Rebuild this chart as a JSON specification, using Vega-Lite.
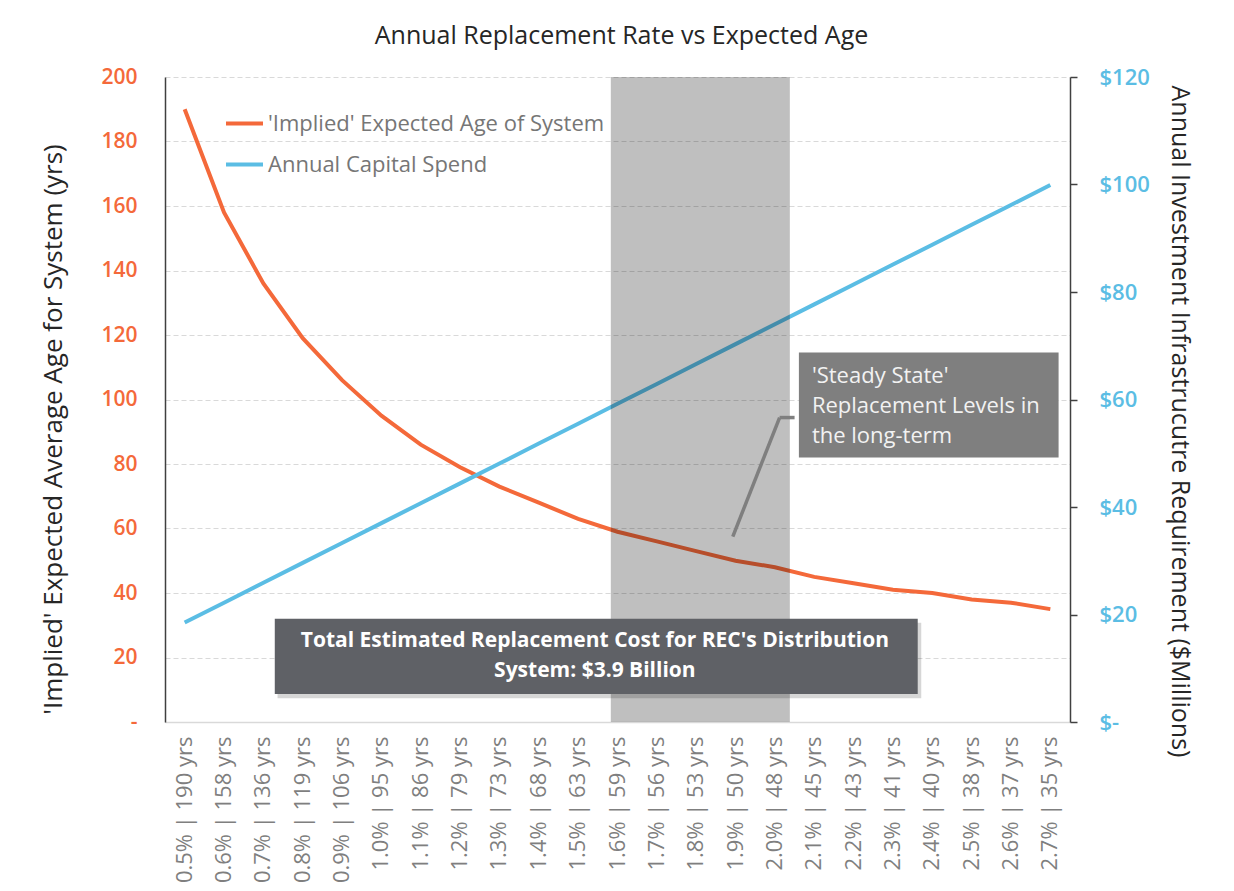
{
  "$schema": "https://vega.github.io/schema/vega-lite/v6.json",
  "width": 905,
  "height": 645,
  "autosize": {"type": "none"},
  "padding": {"left": 165, "top": 77, "right": 164, "bottom": 169},
  "background": "white",
  "title": {
    "text": "Annual Replacement Rate vs Expected Age",
    "font": "Open Sans",
    "fontSize": 25,
    "fontWeight": "normal",
    "color": "#262626",
    "anchor": "middle",
    "dx": 4,
    "offset": 17
  },
  "datasets": {
    "age": [
      {"cat": "0.5% | 190 yrs", "series": "'Implied' Expected Age of System", "v": 190},
      {"cat": "0.6% | 158 yrs", "series": "'Implied' Expected Age of System", "v": 158},
      {"cat": "0.7% | 136 yrs", "series": "'Implied' Expected Age of System", "v": 136},
      {"cat": "0.8% | 119 yrs", "series": "'Implied' Expected Age of System", "v": 119},
      {"cat": "0.9% | 106 yrs", "series": "'Implied' Expected Age of System", "v": 106},
      {"cat": "1.0% | 95 yrs", "series": "'Implied' Expected Age of System", "v": 95},
      {"cat": "1.1% | 86 yrs", "series": "'Implied' Expected Age of System", "v": 86},
      {"cat": "1.2% | 79 yrs", "series": "'Implied' Expected Age of System", "v": 79},
      {"cat": "1.3% | 73 yrs", "series": "'Implied' Expected Age of System", "v": 73},
      {"cat": "1.4% | 68 yrs", "series": "'Implied' Expected Age of System", "v": 68},
      {"cat": "1.5% | 63 yrs", "series": "'Implied' Expected Age of System", "v": 63},
      {"cat": "1.6% | 59 yrs", "series": "'Implied' Expected Age of System", "v": 59},
      {"cat": "1.7% | 56 yrs", "series": "'Implied' Expected Age of System", "v": 56},
      {"cat": "1.8% | 53 yrs", "series": "'Implied' Expected Age of System", "v": 53},
      {"cat": "1.9% | 50 yrs", "series": "'Implied' Expected Age of System", "v": 50},
      {"cat": "2.0% | 48 yrs", "series": "'Implied' Expected Age of System", "v": 48},
      {"cat": "2.1% | 45 yrs", "series": "'Implied' Expected Age of System", "v": 45},
      {"cat": "2.2% | 43 yrs", "series": "'Implied' Expected Age of System", "v": 43},
      {"cat": "2.3% | 41 yrs", "series": "'Implied' Expected Age of System", "v": 41},
      {"cat": "2.4% | 40 yrs", "series": "'Implied' Expected Age of System", "v": 40},
      {"cat": "2.5% | 38 yrs", "series": "'Implied' Expected Age of System", "v": 38},
      {"cat": "2.6% | 37 yrs", "series": "'Implied' Expected Age of System", "v": 37},
      {"cat": "2.7% | 35 yrs", "series": "'Implied' Expected Age of System", "v": 35}
    ],
    "spend": [
      {"cat": "0.5% | 190 yrs", "series": "Annual Capital Spend", "v": 18.5},
      {"cat": "0.6% | 158 yrs", "series": "Annual Capital Spend", "v": 22.2},
      {"cat": "0.7% | 136 yrs", "series": "Annual Capital Spend", "v": 25.9},
      {"cat": "0.8% | 119 yrs", "series": "Annual Capital Spend", "v": 29.6},
      {"cat": "0.9% | 106 yrs", "series": "Annual Capital Spend", "v": 33.3},
      {"cat": "1.0% | 95 yrs", "series": "Annual Capital Spend", "v": 37.0},
      {"cat": "1.1% | 86 yrs", "series": "Annual Capital Spend", "v": 40.7},
      {"cat": "1.2% | 79 yrs", "series": "Annual Capital Spend", "v": 44.4},
      {"cat": "1.3% | 73 yrs", "series": "Annual Capital Spend", "v": 48.1},
      {"cat": "1.4% | 68 yrs", "series": "Annual Capital Spend", "v": 51.8},
      {"cat": "1.5% | 63 yrs", "series": "Annual Capital Spend", "v": 55.5},
      {"cat": "1.6% | 59 yrs", "series": "Annual Capital Spend", "v": 59.2},
      {"cat": "1.7% | 56 yrs", "series": "Annual Capital Spend", "v": 62.9},
      {"cat": "1.8% | 53 yrs", "series": "Annual Capital Spend", "v": 66.6},
      {"cat": "1.9% | 50 yrs", "series": "Annual Capital Spend", "v": 70.3},
      {"cat": "2.0% | 48 yrs", "series": "Annual Capital Spend", "v": 74.0},
      {"cat": "2.1% | 45 yrs", "series": "Annual Capital Spend", "v": 77.7},
      {"cat": "2.2% | 43 yrs", "series": "Annual Capital Spend", "v": 81.4},
      {"cat": "2.3% | 41 yrs", "series": "Annual Capital Spend", "v": 85.1},
      {"cat": "2.4% | 40 yrs", "series": "Annual Capital Spend", "v": 88.8},
      {"cat": "2.5% | 38 yrs", "series": "Annual Capital Spend", "v": 92.5},
      {"cat": "2.6% | 37 yrs", "series": "Annual Capital Spend", "v": 96.2},
      {"cat": "2.7% | 35 yrs", "series": "Annual Capital Spend", "v": 99.9}
    ],
    "steadyBand": [{"from": "1.6% | 59 yrs", "to": "2.0% | 48 yrs"}],
    "totalBox": [{"from": "0.7% | 136 yrs", "to": "2.4% | 40 yrs", "top": 32.0, "bottom": 8.7}],
    "totalShadow": [{"from": "0.7% | 136 yrs", "to": "2.4% | 40 yrs", "top": 30.8, "bottom": 7.4}],
    "totalText": [{"at": "1.5% | 63 yrs", "y": 25.0, "text": ["Total Estimated Replacement Cost for REC's Distribution", "System: $3.9 Billion"]}],
    "steadyBox": [{"from": "2.1% | 45 yrs", "to": "2.7% | 35 yrs", "top": 114.6, "bottom": 82.0}],
    "steadyText": [{"at": "2.1% | 45 yrs", "y": 107.4, "text": ["'Steady State'", "Replacement Levels in", "the long-term"]}],
    "leaderDiag": [{"from": "1.9% | 50 yrs", "to": "2.0% | 48 yrs", "y1": 57.5, "y2": 94.4}],
    "leaderFlat": [{"from": "2.0% | 48 yrs", "to": "2.1% | 45 yrs", "y1": 94.4, "y2": 94.4}]
  },
  "layer": [
    {
      "data": {"name": "age"},
      "mark": {"type": "line", "strokeWidth": 4},
      "encoding": {
        "x": {"field": "cat", "type": "nominal", "title": null, "scale": {"type": "band", "paddingInner": 0, "paddingOuter": 0}},
        "y": {
          "field": "v",
          "type": "quantitative",
          "scale": {"domain": [0, 200]},
          "axis": {
            "orient": "left",
            "values": [0, 20, 40, 60, 80, 100, 120, 140, 160, 180, 200],
            "labelExpr": "datum.value == 0 ? '-' : datum.label",
            "title": "'Implied' Expected Average Age for System (yrs)",
            "grid": true,
            "titleY": 352
          }
        },
        "color": {
          "field": "series",
          "type": "nominal",
          "scale": {"domain": ["'Implied' Expected Age of System", "Annual Capital Spend"], "range": ["#f4693a", "#5bbde4"]},
          "legend": {"title": null, "orient": "none", "legendX": 59, "legendY": 26}
        }
      }
    },
    {
      "data": {"name": "spend"},
      "mark": {"type": "line", "strokeWidth": 4},
      "encoding": {
        "x": {"field": "cat", "type": "nominal", "title": null, "scale": {"type": "band", "paddingInner": 0, "paddingOuter": 0}},
        "y": {
          "field": "v",
          "type": "quantitative",
          "scale": {"domain": [0, 120]},
          "axis": {
            "orient": "right",
            "values": [0, 20, 40, 60, 80, 100, 120],
            "labelExpr": "datum.value == 0 ? '$-' : '$' + datum.label",
            "title": "Annual Investment Infrastrucutre Requirement ($Millions)",
            "grid": false,
            "ticks": true,
            "tickSize": 7,
            "tickWidth": 1.5,
            "tickColor": "#404040",
            "labelPadding": 22,
            "labelColor": "#5bbde4",
            "labelAlign": "left",
            "titleAngle": 90,
            "titlePadding": 17,
            "titleFontSize": 25,
            "titleY": 344
          }
        },
        "color": {"field": "series", "type": "nominal"}
      }
    },
    {
      "data": {"name": "steadyBand"},
      "mark": {"type": "rect", "fill": "#000000", "fillOpacity": 0.25},
      "encoding": {
        "x": {"field": "from", "type": "nominal", "title": null, "bandPosition": 0.33, "scale": {"type": "band", "paddingInner": 0, "paddingOuter": 0}},
        "x2": {"field": "to", "bandPosition": 0.88}
      }
    },
    {
      "data": {"name": "totalShadow"},
      "mark": {"type": "rect", "fill": "#000000", "fillOpacity": 0.16},
      "encoding": {
        "x": {"field": "from", "type": "nominal", "title": null, "bandPosition": 0.86, "scale": {"type": "band", "paddingInner": 0, "paddingOuter": 0}},
        "x2": {"field": "to", "bandPosition": 0.22},
        "y": {"field": "top", "type": "quantitative", "scale": {"domain": [0, 200]}, "axis": null},
        "y2": {"field": "bottom"}
      }
    },
    {
      "data": {"name": "totalBox"},
      "mark": {"type": "rect", "fill": "#5f6166"},
      "encoding": {
        "x": {"field": "from", "type": "nominal", "title": null, "bandPosition": 0.79, "scale": {"type": "band", "paddingInner": 0, "paddingOuter": 0}},
        "x2": {"field": "to", "bandPosition": 0.13},
        "y": {"field": "top", "type": "quantitative", "scale": {"domain": [0, 200]}, "axis": null},
        "y2": {"field": "bottom"}
      }
    },
    {
      "data": {"name": "totalText"},
      "mark": {"type": "text", "font": "Open Sans", "fontSize": 21, "fontWeight": "bold", "color": "#ffffff", "align": "center", "baseline": "middle", "lineHeight": 30},
      "encoding": {
        "x": {"field": "at", "type": "nominal", "title": null, "bandPosition": 0.925, "scale": {"type": "band", "paddingInner": 0, "paddingOuter": 0}},
        "y": {"field": "y", "type": "quantitative", "scale": {"domain": [0, 200]}, "axis": null},
        "text": {"field": "text"}
      }
    },
    {
      "data": {"name": "steadyBox"},
      "mark": {"type": "rect", "fill": "#7f7f7f"},
      "encoding": {
        "x": {"field": "from", "type": "nominal", "title": null, "bandPosition": 0.11, "scale": {"type": "band", "paddingInner": 0, "paddingOuter": 0}},
        "x2": {"field": "to", "bandPosition": 0.71},
        "y": {"field": "top", "type": "quantitative", "scale": {"domain": [0, 200]}, "axis": null},
        "y2": {"field": "bottom"}
      }
    },
    {
      "data": {"name": "steadyText"},
      "mark": {"type": "text", "font": "Open Sans", "fontSize": 22, "color": "#f2f2f2", "align": "left", "baseline": "middle", "lineHeight": 30},
      "encoding": {
        "x": {"field": "at", "type": "nominal", "title": null, "bandPosition": 0.44, "scale": {"type": "band", "paddingInner": 0, "paddingOuter": 0}},
        "y": {"field": "y", "type": "quantitative", "scale": {"domain": [0, 200]}, "axis": null},
        "text": {"field": "text"}
      }
    },
    {
      "data": {"name": "leaderDiag"},
      "mark": {"type": "rule", "color": "#7f7f7f", "strokeWidth": 3.5},
      "encoding": {
        "x": {"field": "from", "type": "nominal", "title": null, "bandPosition": 0.43, "scale": {"type": "band", "paddingInner": 0, "paddingOuter": 0}},
        "x2": {"field": "to", "bandPosition": 0.62},
        "y": {"field": "y1", "type": "quantitative", "scale": {"domain": [0, 200]}, "axis": null},
        "y2": {"field": "y2"}
      }
    },
    {
      "data": {"name": "leaderFlat"},
      "mark": {"type": "rule", "color": "#7f7f7f", "strokeWidth": 3.5},
      "encoding": {
        "x": {"field": "from", "type": "nominal", "title": null, "bandPosition": 0.62, "scale": {"type": "band", "paddingInner": 0, "paddingOuter": 0}},
        "x2": {"field": "to", "bandPosition": 0.0},
        "y": {"field": "y1", "type": "quantitative", "scale": {"domain": [0, 200]}, "axis": null},
        "y2": {"field": "y2"}
      }
    }
  ],
  "resolve": {"scale": {"y": "independent"}},
  "config": {
    "view": {"stroke": null},
    "font": "Open Sans",
    "axis": {
      "labelFont": "Open Sans",
      "titleFont": "Open Sans",
      "titleFontWeight": "normal",
      "titleColor": "#262626",
      "titleFontSize": 26
    },
    "axisX": {
      "labelAngle": -90,
      "labelFontSize": 22,
      "labelColor": "#7f7f7f",
      "labelPadding": 14,
      "ticks": false,
      "domainColor": "#d9d9d9",
      "domainWidth": 1.5,
      "grid": false
    },
    "axisLeft": {
      "labelColor": "#f4693a",
      "labelFontSize": 21,
      "labelFontWeight": 600,
      "labelPadding": 28,
      "ticks": false,
      "tickSize": 0,
      "domainColor": "#404040",
      "domainWidth": 1.5,
      "gridColor": "#d9d9d9",
      "gridDash": [5, 3],
      "gridWidth": 1,
      "titlePadding": 34
    },
    "axisRight": {
      "labelFontSize": 22,
      "labelFontWeight": 600,
      "domainColor": "#404040",
      "domainWidth": 1.5
    },
    "legend": {
      "labelFont": "Open Sans",
      "labelFontSize": 22,
      "labelColor": "#767676",
      "labelLimit": 0,
      "symbolType": "stroke",
      "symbolStrokeWidth": 4,
      "symbolSize": 1369,
      "labelOffset": 3,
      "rowPadding": 9
    }
  }
}
